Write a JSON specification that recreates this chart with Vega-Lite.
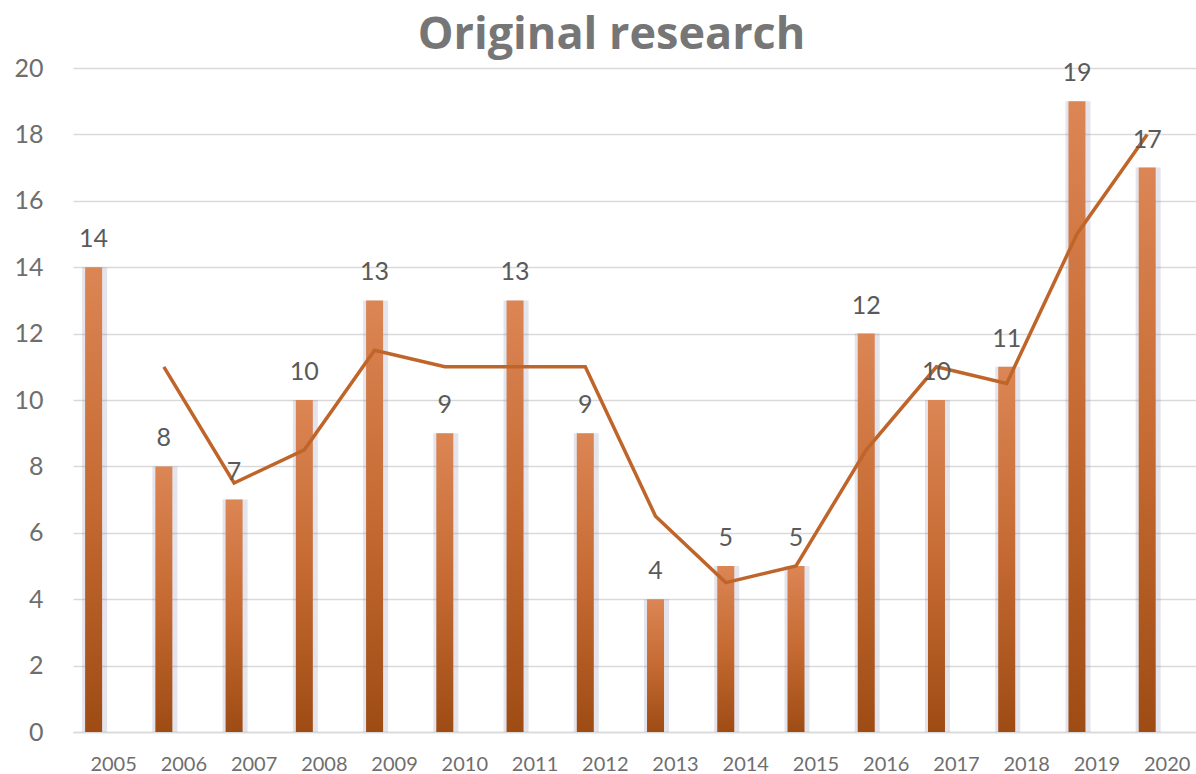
{
  "$schema": "https://vega.github.io/schema/vega-lite/v6.json",
  "width": 1123,
  "height": 664,
  "autosize": {"type": "none"},
  "padding": {"left": 73, "top": 68, "right": 0, "bottom": 42},
  "background": "white",
  "title": {
    "text": "Original research",
    "font": "Open Sans",
    "fontSize": 45,
    "fontWeight": "bold",
    "color": "#767676",
    "anchor": "middle",
    "dx": -23,
    "baseline": "alphabetic",
    "offset": -38
  },
  "config": {"view": {"stroke": null}},
  "data": {
    "values": [
      {"year": 2005, "count": 14, "avg": null},
      {"year": 2006, "count": 8, "avg": 11},
      {"year": 2007, "count": 7, "avg": 7.5},
      {"year": 2008, "count": 10, "avg": 8.5},
      {"year": 2009, "count": 13, "avg": 11.5},
      {"year": 2010, "count": 9, "avg": 11},
      {"year": 2011, "count": 13, "avg": 11},
      {"year": 2012, "count": 9, "avg": 11},
      {"year": 2013, "count": 4, "avg": 6.5},
      {"year": 2014, "count": 5, "avg": 4.5},
      {"year": 2015, "count": 5, "avg": 5},
      {"year": 2016, "count": 12, "avg": 8.5},
      {"year": 2017, "count": 10, "avg": 11},
      {"year": 2018, "count": 11, "avg": 10.5},
      {"year": 2019, "count": 19, "avg": 15},
      {"year": 2020, "count": 17, "avg": 18}
    ]
  },
  "encoding": {
    "x": {
      "field": "year",
      "type": "quantitative",
      "scale": {"domain": [2004.5, 2020.346], "nice": false, "zero": false},
      "axis": {
        "title": null,
        "values": [2005, 2006, 2007, 2008, 2009, 2010, 2011, 2012, 2013, 2014, 2015, 2016, 2017, 2018, 2019, 2020],
        "format": "d",
        "grid": false,
        "ticks": false,
        "domain": true,
        "domainColor": "#D9D9D9",
        "domainWidth": 1.5,
        "labelFont": "Lato",
        "labelFontSize": 20,
        "labelColor": "#6E6E6E",
        "labelPadding": 22,
        "labelFlush": false,
        "labelOverlap": false
      }
    }
  },
  "layer": [
    {
      "mark": {"type": "bar", "width": 25, "xOffset": -18.5, "color": "#6A6A9A", "opacity": 0.18},
      "encoding": {
        "y": {
          "field": "count",
          "type": "quantitative",
          "scale": {"domain": [0, 20], "nice": false},
          "axis": {
            "title": null,
            "values": [0, 2, 4, 6, 8, 10, 12, 14, 16, 18, 20],
            "grid": true,
            "gridColor": "#D9D9D9",
            "gridWidth": 1.5,
            "domain": false,
            "ticks": false,
            "labelFont": "Lato",
            "labelFontSize": 25,
            "labelColor": "#6E6E6E",
            "labelPadding": 30
          }
        }
      }
    },
    {
      "mark": {
        "type": "bar",
        "width": 17,
        "xOffset": -19.5,
        "color": {
          "gradient": "linear",
          "x1": 0, "y1": 0, "x2": 0, "y2": 1,
          "stops": [
            {"offset": 0, "color": "#DC8655"},
            {"offset": 0.5, "color": "#C56A32"},
            {"offset": 1, "color": "#9E4C14"}
          ]
        }
      },
      "encoding": {"y": {"field": "count", "type": "quantitative"}}
    },
    {
      "mark": {"type": "line", "xOffset": -19.5, "color": "#C0652A", "strokeWidth": 3.5},
      "transform": [{"filter": "datum.avg != null"}],
      "encoding": {"y": {"field": "avg", "type": "quantitative"}}
    },
    {
      "mark": {"type": "text", "xOffset": -19.5, "dy": -20, "baseline": "alphabetic", "font": "Lato", "fontSize": 25, "color": "#5A5A5A"},
      "encoding": {
        "y": {"field": "count", "type": "quantitative"},
        "text": {"field": "count", "type": "quantitative"}
      }
    }
  ]
}
